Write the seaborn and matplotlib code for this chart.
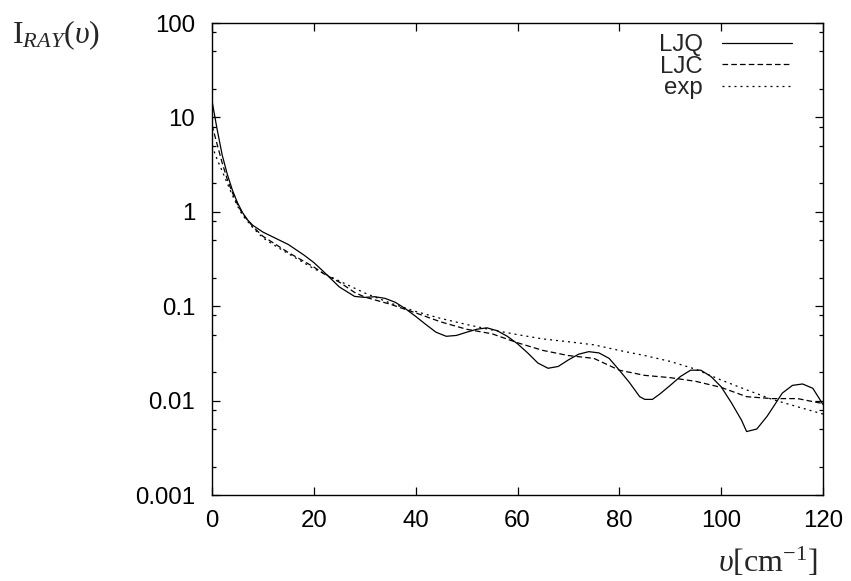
import numpy as np
import pandas as pd
import matplotlib
matplotlib.use("Agg")
import matplotlib.pyplot as plt
import seaborn as sns
from matplotlib.ticker import FixedLocator, NullFormatter

# ---- data ----
x_ljq = [0, 1, 2, 3, 4, 5, 6, 7, 8, 10, 12, 15, 18, 20, 22, 25, 28, 30, 32, 34,
         36, 38, 40, 42, 44, 46, 48, 50, 52, 54, 56, 58, 60, 62, 64, 66, 68, 70,
         72, 74, 76, 78, 80, 82, 84, 85, 86.5, 88, 90, 92, 94, 96, 98, 100, 102,
         104, 105, 107, 109, 110, 112, 114, 116, 118, 120]
y_ljq = [15, 7.5, 4.0, 2.5, 1.7, 1.25, 0.98, 0.82, 0.72, 0.61, 0.54, 0.45, 0.35,
         0.29, 0.23, 0.16, 0.127, 0.124, 0.126, 0.121, 0.11, 0.094, 0.078, 0.064,
         0.053, 0.048, 0.049, 0.053, 0.057, 0.059, 0.055, 0.048, 0.040, 0.032,
         0.025, 0.022, 0.023, 0.027, 0.031, 0.033, 0.032, 0.028, 0.021, 0.0155,
         0.011, 0.0103, 0.0103, 0.0118, 0.0145, 0.018, 0.021, 0.021, 0.018, 0.014,
         0.0095, 0.0062, 0.0047, 0.005, 0.0068, 0.0082, 0.012, 0.0145, 0.015,
         0.0135, 0.0091]

x_ljc = [0, 1, 2, 3, 4, 5, 6, 8, 10, 12, 15, 18, 20, 22, 25, 28, 30, 35, 40, 45,
         50, 55, 60, 65, 70, 75, 80, 85, 90, 95, 100, 105, 110, 115, 120]
y_ljc = [8.3, 5.2, 3.3, 2.2, 1.6, 1.2, 0.95, 0.7, 0.55, 0.47, 0.37, 0.3, 0.26,
         0.22, 0.18, 0.14, 0.125, 0.105, 0.085, 0.068, 0.057, 0.051, 0.041, 0.034,
         0.030, 0.028, 0.021, 0.0185, 0.0175, 0.016, 0.0138, 0.011, 0.0105,
         0.0105, 0.0093]

x_exp = [0, 1, 2, 3, 4, 5, 6, 8, 10, 12, 15, 20, 25, 30, 35, 40, 45, 50, 55, 60,
         65, 70, 75, 80, 85, 90, 95, 100, 105, 110, 115, 120]
y_exp = [5.0, 3.6, 2.7, 2.0, 1.5, 1.15, 0.92, 0.68, 0.53, 0.45, 0.36, 0.25, 0.185,
         0.138, 0.108, 0.088, 0.074, 0.064, 0.056, 0.050, 0.045, 0.042, 0.039,
         0.034, 0.030, 0.026, 0.0215, 0.0165, 0.013, 0.0103, 0.0086, 0.0072]

series_names = ["LJQ", "LJC", "exp"]
x_ticks = [0, 20, 40, 60, 80, 100, 120]
y_ticks = [0.001, 0.01, 0.1, 1, 10, 100]
y_tick_labels = ["0.001", "0.01", "0.1", "1", "10", "100"]

# ---- style ----
sns.set_style("ticks")
plt.rcParams["font.family"] = ["Liberation Sans", "DejaVu Sans"]
plt.rcParams["mathtext.fontset"] = "custom"
plt.rcParams["mathtext.rm"] = "Liberation Serif"
plt.rcParams["mathtext.it"] = "Liberation Serif:italic"

fig = plt.figure(figsize=(8.51, 5.81), dpi=100)
ax = fig.add_axes([212 / 851, 1 - 495 / 581, (823 - 212) / 851, (495 - 23) / 581])

styles = {"LJQ": "-", "LJC": (0, (4.5, 2.5)), "exp": (0, (1.6, 3.2))}
data = {"LJQ": (x_ljq, y_ljq), "LJC": (x_ljc, y_ljc), "exp": (x_exp, y_exp)}
for name in series_names:
    xs, ys = data[name]
    df = pd.DataFrame({"x": xs, "y": ys})
    sns.lineplot(data=df, x="x", y="y", ax=ax, color="black", lw=0.9,
                 linestyle=styles[name], label=name, sort=False)

ax.set_yscale("log")
ax.set_xlim(0, 120)
ax.set_ylim(0.001, 100)
ax.set_xticks(x_ticks)
ax.set_xticklabels([str(t) for t in x_ticks])
ax.set_yticks(y_ticks)
ax.set_yticklabels(y_tick_labels)
minor = []
for dec in [0.001, 0.01, 0.1, 1, 10]:
    for m in (2, 5, 8):
        minor.append(dec * m)
ax.yaxis.set_minor_locator(FixedLocator(minor))
ax.yaxis.set_minor_formatter(NullFormatter())
ax.xaxis.set_minor_locator(FixedLocator([]))

ax.tick_params(which="both", direction="in", top=True, right=True,
               labelsize=17.3, colors="black")
ax.tick_params(axis="y", pad=12)
ax.tick_params(axis="x", pad=11)
ax.tick_params(which="major", length=5.5, width=0.9)
ax.tick_params(which="minor", length=3.2, width=0.9)
for s in ax.spines.values():
    s.set_visible(True)
    s.set_linewidth(1.0)
    s.set_color("black")

ax.set_xlabel("")
ax.set_ylabel("")
fig.text(12 / 851, 1 - 43 / 581, r"$\mathrm{I}_{RAY}(\upsilon)$", fontsize=23,
         ha="left", va="baseline")
fig.text(818 / 851, 1 - 572 / 581, r"$\upsilon[\mathrm{cm}^{-1}]$", fontsize=23,
         ha="right", va="baseline")

leg = ax.legend(loc="upper right", frameon=False, markerfirst=False,
                fontsize=17.3, handlelength=2.9, handletextpad=0.8,
                labelspacing=-0.02, borderaxespad=0, borderpad=0,
                bbox_to_anchor=((792 - 212) / 611, 1 - 11 / 472))

fig.savefig("out.png", dpi=100)
